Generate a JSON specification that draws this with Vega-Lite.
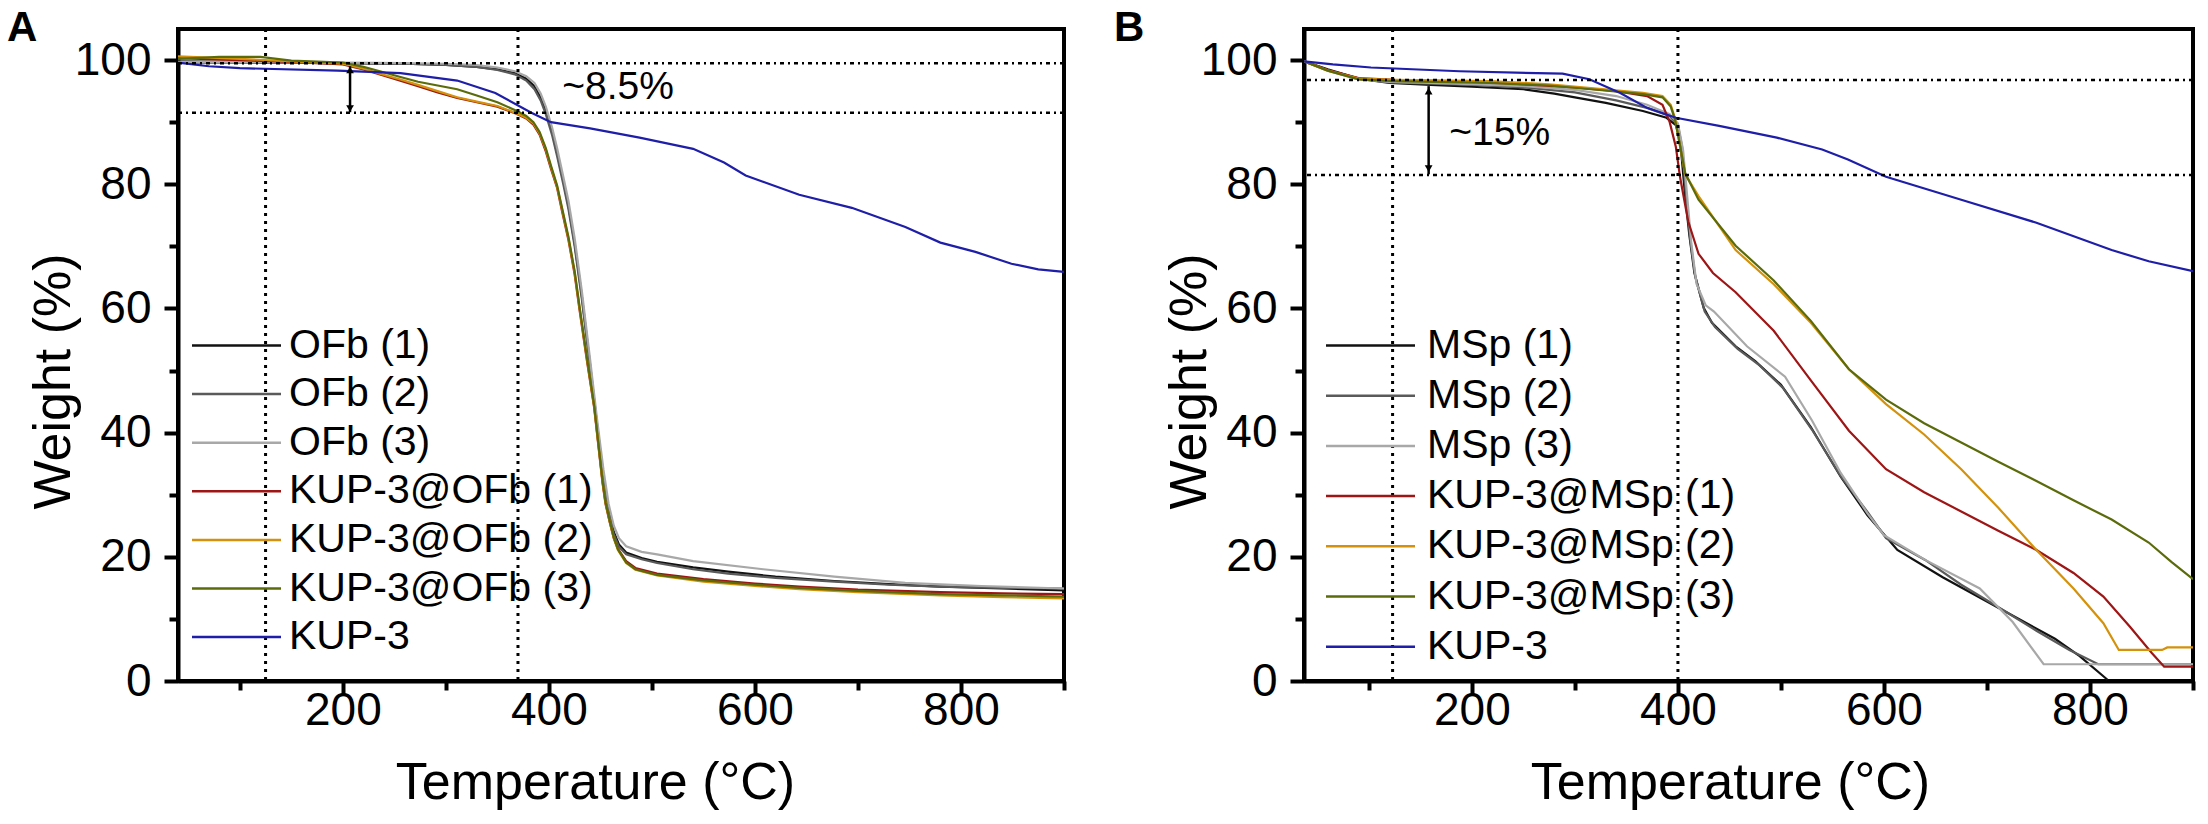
{
  "$schema": "https://vega.github.io/schema/vega-lite/v6.json",
  "autosize": {"type": "pad"},
  "padding": {"left": 5, "top": 4, "right": 15, "bottom": 15},
  "bounds": "flush",
  "spacing": 240,
  "background": "white",
  "config": {
    "font": "Liberation Sans",
    "view": {"stroke": "black", "strokeWidth": 4},
    "axis": {"domainColor": "black", "domainWidth": 4, "tickColor": "black", "tickWidth": 4, "grid": false, "labelFont": "Liberation Sans", "labelFontSize": 46, "labelColor": "black", "titleFont": "Liberation Sans", "titleFontSize": 52, "titleFontWeight": "normal", "titleColor": "black", "labelFlush": false, "labelOverlap": false},
    "legend": {"orient": "none", "title": null, "symbolType": "M-4.45,0L4.45,0", "symbolSize": 400, "symbolStrokeWidth": 2.5, "labelFontSize": 41, "labelFont": "Liberation Sans", "labelColor": "black", "padding": 0, "rowPadding": 6.6, "labelLimit": 600},
    "title": {"font": "Liberation Sans", "fontSize": 42, "fontWeight": "bold", "color": "black"}
  },
  "datasets": {
    "A": [
      {"s":"OFb (1)","T":40,"W":99.8},{"s":"OFb (1)","T":100,"W":99.7},{"s":"OFb (1)","T":200,"W":99.5},{"s":"OFb (1)","T":260,"W":99.4},{"s":"OFb (1)","T":300,"W":99.2},{"s":"OFb (1)","T":330,"W":98.9},{"s":"OFb (1)","T":350,"W":98.5},{"s":"OFb (1)","T":367,"W":97.9},{"s":"OFb (1)","T":378,"W":97.0},{"s":"OFb (1)","T":386,"W":95.8},{"s":"OFb (1)","T":392,"W":94.0},{"s":"OFb (1)","T":397,"W":91.8},{"s":"OFb (1)","T":403,"W":88.5},{"s":"OFb (1)","T":408,"W":85.0},{"s":"OFb (1)","T":414,"W":80.5},{"s":"OFb (1)","T":419,"W":76.5},{"s":"OFb (1)","T":425,"W":70.5},{"s":"OFb (1)","T":432,"W":62.0},{"s":"OFb (1)","T":440,"W":51.0},{"s":"OFb (1)","T":447,"W":41.0},{"s":"OFb (1)","T":453,"W":33.0},{"s":"OFb (1)","T":458,"W":27.5},{"s":"OFb (1)","T":463,"W":24.0},{"s":"OFb (1)","T":468,"W":22.0},{"s":"OFb (1)","T":475,"W":20.7},{"s":"OFb (1)","T":490,"W":19.8},{"s":"OFb (1)","T":505,"W":19.2},{"s":"OFb (1)","T":540,"W":18.3},{"s":"OFb (1)","T":574,"W":17.6},{"s":"OFb (1)","T":620,"W":16.8},{"s":"OFb (1)","T":677,"W":16.1},{"s":"OFb (1)","T":730,"W":15.6},{"s":"OFb (1)","T":780,"W":15.2},{"s":"OFb (1)","T":840,"W":14.9},{"s":"OFb (1)","T":900,"W":14.6},
      {"s":"OFb (2)","T":40,"W":99.6},{"s":"OFb (2)","T":100,"W":99.6},{"s":"OFb (2)","T":200,"W":99.5},{"s":"OFb (2)","T":260,"W":99.4},{"s":"OFb (2)","T":300,"W":99.2},{"s":"OFb (2)","T":330,"W":98.9},{"s":"OFb (2)","T":350,"W":98.4},{"s":"OFb (2)","T":367,"W":97.7},{"s":"OFb (2)","T":378,"W":96.7},{"s":"OFb (2)","T":386,"W":95.3},{"s":"OFb (2)","T":392,"W":93.5},{"s":"OFb (2)","T":397,"W":91.3},{"s":"OFb (2)","T":403,"W":88.0},{"s":"OFb (2)","T":408,"W":84.5},{"s":"OFb (2)","T":414,"W":80.0},{"s":"OFb (2)","T":419,"W":76.0},{"s":"OFb (2)","T":425,"W":70.0},{"s":"OFb (2)","T":432,"W":61.5},{"s":"OFb (2)","T":440,"W":50.5},{"s":"OFb (2)","T":447,"W":40.5},{"s":"OFb (2)","T":453,"W":32.5},{"s":"OFb (2)","T":458,"W":27.0},{"s":"OFb (2)","T":463,"W":23.6},{"s":"OFb (2)","T":468,"W":21.6},{"s":"OFb (2)","T":475,"W":20.4},{"s":"OFb (2)","T":490,"W":19.6},{"s":"OFb (2)","T":505,"W":19.0},{"s":"OFb (2)","T":540,"W":18.0},{"s":"OFb (2)","T":574,"W":17.3},{"s":"OFb (2)","T":620,"W":16.6},{"s":"OFb (2)","T":677,"W":16.0},{"s":"OFb (2)","T":730,"W":15.5},{"s":"OFb (2)","T":780,"W":15.2},{"s":"OFb (2)","T":840,"W":15.0},{"s":"OFb (2)","T":900,"W":14.9},
      {"s":"OFb (3)","T":40,"W":99.7},{"s":"OFb (3)","T":100,"W":99.7},{"s":"OFb (3)","T":200,"W":99.6},{"s":"OFb (3)","T":260,"W":99.5},{"s":"OFb (3)","T":300,"W":99.4},{"s":"OFb (3)","T":330,"W":99.2},{"s":"OFb (3)","T":350,"W":98.8},{"s":"OFb (3)","T":367,"W":98.2},{"s":"OFb (3)","T":378,"W":97.4},{"s":"OFb (3)","T":386,"W":96.3},{"s":"OFb (3)","T":392,"W":94.6},{"s":"OFb (3)","T":397,"W":92.5},{"s":"OFb (3)","T":403,"W":89.2},{"s":"OFb (3)","T":408,"W":85.8},{"s":"OFb (3)","T":414,"W":81.2},{"s":"OFb (3)","T":419,"W":77.3},{"s":"OFb (3)","T":425,"W":71.3},{"s":"OFb (3)","T":432,"W":62.8},{"s":"OFb (3)","T":440,"W":51.8},{"s":"OFb (3)","T":447,"W":41.8},{"s":"OFb (3)","T":453,"W":34.0},{"s":"OFb (3)","T":458,"W":28.5},{"s":"OFb (3)","T":463,"W":25.0},{"s":"OFb (3)","T":468,"W":23.0},{"s":"OFb (3)","T":475,"W":21.7},{"s":"OFb (3)","T":490,"W":20.8},{"s":"OFb (3)","T":505,"W":20.4},{"s":"OFb (3)","T":540,"W":19.3},{"s":"OFb (3)","T":608,"W":18.0},{"s":"OFb (3)","T":677,"W":16.8},{"s":"OFb (3)","T":746,"W":15.8},{"s":"OFb (3)","T":820,"W":15.3},{"s":"OFb (3)","T":900,"W":14.9},
      {"s":"KUP-3@OFb (1)","T":40,"W":100.3},{"s":"KUP-3@OFb (1)","T":100,"W":100.0},{"s":"KUP-3@OFb (1)","T":150,"W":99.7},{"s":"KUP-3@OFb (1)","T":200,"W":99.3},{"s":"KUP-3@OFb (1)","T":220,"W":98.5},{"s":"KUP-3@OFb (1)","T":236,"W":97.7},{"s":"KUP-3@OFb (1)","T":255,"W":96.7},{"s":"KUP-3@OFb (1)","T":273,"W":95.8},{"s":"KUP-3@OFb (1)","T":292,"W":94.8},{"s":"KUP-3@OFb (1)","T":311,"W":93.9},{"s":"KUP-3@OFb (1)","T":330,"W":93.2},{"s":"KUP-3@OFb (1)","T":350,"W":92.5},{"s":"KUP-3@OFb (1)","T":369,"W":91.3},{"s":"KUP-3@OFb (1)","T":378,"W":90.6},{"s":"KUP-3@OFb (1)","T":385,"W":89.6},{"s":"KUP-3@OFb (1)","T":391,"W":88.0},{"s":"KUP-3@OFb (1)","T":397,"W":85.3},{"s":"KUP-3@OFb (1)","T":402,"W":82.5},{"s":"KUP-3@OFb (1)","T":408,"W":79.4},{"s":"KUP-3@OFb (1)","T":413,"W":75.5},{"s":"KUP-3@OFb (1)","T":419,"W":71.0},{"s":"KUP-3@OFb (1)","T":425,"W":65.5},{"s":"KUP-3@OFb (1)","T":430,"W":59.5},{"s":"KUP-3@OFb (1)","T":437,"W":51.5},{"s":"KUP-3@OFb (1)","T":444,"W":44.0},{"s":"KUP-3@OFb (1)","T":448,"W":38.0},{"s":"KUP-3@OFb (1)","T":452,"W":32.0},{"s":"KUP-3@OFb (1)","T":455,"W":28.5},{"s":"KUP-3@OFb (1)","T":459,"W":25.6},{"s":"KUP-3@OFb (1)","T":463,"W":23.0},{"s":"KUP-3@OFb (1)","T":467,"W":21.3},{"s":"KUP-3@OFb (1)","T":475,"W":19.3},{"s":"KUP-3@OFb (1)","T":484,"W":18.2},{"s":"KUP-3@OFb (1)","T":505,"W":17.3},{"s":"KUP-3@OFb (1)","T":550,"W":16.4},{"s":"KUP-3@OFb (1)","T":600,"W":15.7},{"s":"KUP-3@OFb (1)","T":643,"W":15.2},{"s":"KUP-3@OFb (1)","T":700,"W":14.7},{"s":"KUP-3@OFb (1)","T":780,"W":14.3},{"s":"KUP-3@OFb (1)","T":840,"W":14.1},{"s":"KUP-3@OFb (1)","T":900,"W":14.0},
      {"s":"KUP-3@OFb (2)","T":40,"W":100.6},{"s":"KUP-3@OFb (2)","T":100,"W":100.2},{"s":"KUP-3@OFb (2)","T":150,"W":99.8},{"s":"KUP-3@OFb (2)","T":200,"W":99.4},{"s":"KUP-3@OFb (2)","T":220,"W":98.6},{"s":"KUP-3@OFb (2)","T":236,"W":97.8},{"s":"KUP-3@OFb (2)","T":255,"W":96.9},{"s":"KUP-3@OFb (2)","T":273,"W":96.0},{"s":"KUP-3@OFb (2)","T":292,"W":95.0},{"s":"KUP-3@OFb (2)","T":311,"W":94.0},{"s":"KUP-3@OFb (2)","T":330,"W":93.3},{"s":"KUP-3@OFb (2)","T":350,"W":92.6},{"s":"KUP-3@OFb (2)","T":369,"W":91.4},{"s":"KUP-3@OFb (2)","T":378,"W":90.7},{"s":"KUP-3@OFb (2)","T":385,"W":89.8},{"s":"KUP-3@OFb (2)","T":391,"W":88.2},{"s":"KUP-3@OFb (2)","T":397,"W":85.6},{"s":"KUP-3@OFb (2)","T":402,"W":82.8},{"s":"KUP-3@OFb (2)","T":408,"W":79.6},{"s":"KUP-3@OFb (2)","T":413,"W":75.8},{"s":"KUP-3@OFb (2)","T":419,"W":71.3},{"s":"KUP-3@OFb (2)","T":425,"W":65.8},{"s":"KUP-3@OFb (2)","T":430,"W":59.8},{"s":"KUP-3@OFb (2)","T":437,"W":51.8},{"s":"KUP-3@OFb (2)","T":444,"W":44.2},{"s":"KUP-3@OFb (2)","T":448,"W":38.2},{"s":"KUP-3@OFb (2)","T":452,"W":32.2},{"s":"KUP-3@OFb (2)","T":455,"W":28.7},{"s":"KUP-3@OFb (2)","T":459,"W":25.7},{"s":"KUP-3@OFb (2)","T":463,"W":23.0},{"s":"KUP-3@OFb (2)","T":467,"W":21.1},{"s":"KUP-3@OFb (2)","T":475,"W":19.0},{"s":"KUP-3@OFb (2)","T":484,"W":17.9},{"s":"KUP-3@OFb (2)","T":505,"W":17.0},{"s":"KUP-3@OFb (2)","T":550,"W":16.0},{"s":"KUP-3@OFb (2)","T":600,"W":15.3},{"s":"KUP-3@OFb (2)","T":643,"W":14.8},{"s":"KUP-3@OFb (2)","T":700,"W":14.3},{"s":"KUP-3@OFb (2)","T":780,"W":13.8},{"s":"KUP-3@OFb (2)","T":840,"W":13.5},{"s":"KUP-3@OFb (2)","T":900,"W":13.3},
      {"s":"KUP-3@OFb (3)","T":40,"W":100.2},{"s":"KUP-3@OFb (3)","T":80,"W":100.5},{"s":"KUP-3@OFb (3)","T":120,"W":100.5},{"s":"KUP-3@OFb (3)","T":150,"W":99.9},{"s":"KUP-3@OFb (3)","T":200,"W":99.6},{"s":"KUP-3@OFb (3)","T":220,"W":98.9},{"s":"KUP-3@OFb (3)","T":236,"W":98.2},{"s":"KUP-3@OFb (3)","T":255,"W":97.3},{"s":"KUP-3@OFb (3)","T":273,"W":96.5},{"s":"KUP-3@OFb (3)","T":292,"W":95.9},{"s":"KUP-3@OFb (3)","T":311,"W":95.3},{"s":"KUP-3@OFb (3)","T":330,"W":94.3},{"s":"KUP-3@OFb (3)","T":350,"W":93.2},{"s":"KUP-3@OFb (3)","T":369,"W":91.8},{"s":"KUP-3@OFb (3)","T":378,"W":91.0},{"s":"KUP-3@OFb (3)","T":385,"W":90.0},{"s":"KUP-3@OFb (3)","T":391,"W":88.4},{"s":"KUP-3@OFb (3)","T":397,"W":85.8},{"s":"KUP-3@OFb (3)","T":402,"W":83.0},{"s":"KUP-3@OFb (3)","T":408,"W":79.8},{"s":"KUP-3@OFb (3)","T":413,"W":76.0},{"s":"KUP-3@OFb (3)","T":419,"W":71.5},{"s":"KUP-3@OFb (3)","T":425,"W":66.0},{"s":"KUP-3@OFb (3)","T":430,"W":60.0},{"s":"KUP-3@OFb (3)","T":437,"W":52.0},{"s":"KUP-3@OFb (3)","T":444,"W":44.3},{"s":"KUP-3@OFb (3)","T":448,"W":38.3},{"s":"KUP-3@OFb (3)","T":452,"W":32.3},{"s":"KUP-3@OFb (3)","T":455,"W":28.8},{"s":"KUP-3@OFb (3)","T":459,"W":25.8},{"s":"KUP-3@OFb (3)","T":463,"W":23.1},{"s":"KUP-3@OFb (3)","T":467,"W":21.2},{"s":"KUP-3@OFb (3)","T":475,"W":19.1},{"s":"KUP-3@OFb (3)","T":484,"W":18.0},{"s":"KUP-3@OFb (3)","T":505,"W":17.1},{"s":"KUP-3@OFb (3)","T":550,"W":16.2},{"s":"KUP-3@OFb (3)","T":600,"W":15.5},{"s":"KUP-3@OFb (3)","T":643,"W":15.0},{"s":"KUP-3@OFb (3)","T":700,"W":14.5},{"s":"KUP-3@OFb (3)","T":780,"W":14.0},{"s":"KUP-3@OFb (3)","T":840,"W":13.8},{"s":"KUP-3@OFb (3)","T":900,"W":13.6},
      {"s":"KUP-3","T":40,"W":99.6},{"s":"KUP-3","T":70,"W":99.0},{"s":"KUP-3","T":100,"W":98.7},{"s":"KUP-3","T":195,"W":98.3},{"s":"KUP-3","T":256,"W":97.9},{"s":"KUP-3","T":311,"W":96.7},{"s":"KUP-3","T":348,"W":94.7},{"s":"KUP-3","T":383,"W":91.5},{"s":"KUP-3","T":402,"W":90.0},{"s":"KUP-3","T":440,"W":89.0},{"s":"KUP-3","T":488,"W":87.5},{"s":"KUP-3","T":540,"W":85.7},{"s":"KUP-3","T":570,"W":83.5},{"s":"KUP-3","T":591,"W":81.4},{"s":"KUP-3","T":643,"W":78.3},{"s":"KUP-3","T":694,"W":76.2},{"s":"KUP-3","T":746,"W":73.1},{"s":"KUP-3","T":780,"W":70.6},{"s":"KUP-3","T":814,"W":69.1},{"s":"KUP-3","T":849,"W":67.2},{"s":"KUP-3","T":875,"W":66.3},{"s":"KUP-3","T":900,"W":65.9}
    ],
    "B": [
      {"s":"MSp (1)","T":37,"W":99.8},{"s":"MSp (1)","T":60,"W":98.5},{"s":"MSp (1)","T":90,"W":97.0},{"s":"MSp (1)","T":120,"W":96.3},{"s":"MSp (1)","T":160,"W":96.0},{"s":"MSp (1)","T":200,"W":95.7},{"s":"MSp (1)","T":250,"W":95.3},{"s":"MSp (1)","T":280,"W":94.6},{"s":"MSp (1)","T":300,"W":94.0},{"s":"MSp (1)","T":330,"W":93.1},{"s":"MSp (1)","T":366,"W":91.8},{"s":"MSp (1)","T":389,"W":90.7},{"s":"MSp (1)","T":398,"W":89.5},{"s":"MSp (1)","T":402,"W":87.4},{"s":"MSp (1)","T":407,"W":78.1},{"s":"MSp (1)","T":411,"W":71.9},{"s":"MSp (1)","T":416,"W":65.7},{"s":"MSp (1)","T":425,"W":60.1},{"s":"MSp (1)","T":433,"W":57.7},{"s":"MSp (1)","T":456,"W":53.9},{"s":"MSp (1)","T":475,"W":51.5},{"s":"MSp (1)","T":500,"W":47.7},{"s":"MSp (1)","T":529,"W":40.9},{"s":"MSp (1)","T":558,"W":32.9},{"s":"MSp (1)","T":584,"W":26.7},{"s":"MSp (1)","T":613,"W":21.1},{"s":"MSp (1)","T":657,"W":16.7},{"s":"MSp (1)","T":711,"W":11.8},{"s":"MSp (1)","T":766,"W":6.8},{"s":"MSp (1)","T":790,"W":4.0},{"s":"MSp (1)","T":817,"W":0.2},
      {"s":"MSp (2)","T":37,"W":99.8},{"s":"MSp (2)","T":60,"W":98.4},{"s":"MSp (2)","T":90,"W":97.0},{"s":"MSp (2)","T":120,"W":96.4},{"s":"MSp (2)","T":160,"W":96.2},{"s":"MSp (2)","T":200,"W":96.0},{"s":"MSp (2)","T":250,"W":95.6},{"s":"MSp (2)","T":300,"W":94.8},{"s":"MSp (2)","T":340,"W":93.5},{"s":"MSp (2)","T":370,"W":92.3},{"s":"MSp (2)","T":392,"W":91.0},{"s":"MSp (2)","T":400,"W":89.5},{"s":"MSp (2)","T":404,"W":86.0},{"s":"MSp (2)","T":408,"W":78.0},{"s":"MSp (2)","T":412,"W":71.0},{"s":"MSp (2)","T":417,"W":65.0},{"s":"MSp (2)","T":426,"W":59.5},{"s":"MSp (2)","T":436,"W":57.0},{"s":"MSp (2)","T":458,"W":53.5},{"s":"MSp (2)","T":478,"W":51.0},{"s":"MSp (2)","T":502,"W":47.2},{"s":"MSp (2)","T":530,"W":40.5},{"s":"MSp (2)","T":558,"W":33.0},{"s":"MSp (2)","T":585,"W":27.0},{"s":"MSp (2)","T":602,"W":23.0},{"s":"MSp (2)","T":640,"W":19.5},{"s":"MSp (2)","T":675,"W":15.5},{"s":"MSp (2)","T":712,"W":11.8},{"s":"MSp (2)","T":748,"W":8.1},{"s":"MSp (2)","T":780,"W":5.0},{"s":"MSp (2)","T":808,"W":2.7},{"s":"MSp (2)","T":900,"W":2.7},
      {"s":"MSp (3)","T":37,"W":99.8},{"s":"MSp (3)","T":60,"W":98.3},{"s":"MSp (3)","T":90,"W":96.9},{"s":"MSp (3)","T":120,"W":96.5},{"s":"MSp (3)","T":160,"W":96.3},{"s":"MSp (3)","T":200,"W":96.1},{"s":"MSp (3)","T":250,"W":95.8},{"s":"MSp (3)","T":300,"W":95.2},{"s":"MSp (3)","T":340,"W":94.2},{"s":"MSp (3)","T":370,"W":92.8},{"s":"MSp (3)","T":392,"W":91.3},{"s":"MSp (3)","T":400,"W":89.8},{"s":"MSp (3)","T":405,"W":85.5},{"s":"MSp (3)","T":409,"W":78.0},{"s":"MSp (3)","T":413,"W":70.5},{"s":"MSp (3)","T":418,"W":64.0},{"s":"MSp (3)","T":427,"W":60.5},{"s":"MSp (3)","T":435,"W":59.5},{"s":"MSp (3)","T":467,"W":53.9},{"s":"MSp (3)","T":504,"W":49.0},{"s":"MSp (3)","T":530,"W":42.0},{"s":"MSp (3)","T":558,"W":33.5},{"s":"MSp (3)","T":584,"W":27.0},{"s":"MSp (3)","T":600,"W":23.5},{"s":"MSp (3)","T":640,"W":19.5},{"s":"MSp (3)","T":693,"W":14.9},{"s":"MSp (3)","T":725,"W":9.5},{"s":"MSp (3)","T":755,"W":2.7},{"s":"MSp (3)","T":900,"W":2.7},
      {"s":"KUP-3@MSp (1)","T":37,"W":99.8},{"s":"KUP-3@MSp (1)","T":60,"W":98.4},{"s":"KUP-3@MSp (1)","T":90,"W":97.1},{"s":"KUP-3@MSp (1)","T":125,"W":96.8},{"s":"KUP-3@MSp (1)","T":200,"W":96.5},{"s":"KUP-3@MSp (1)","T":250,"W":96.1},{"s":"KUP-3@MSp (1)","T":300,"W":95.6},{"s":"KUP-3@MSp (1)","T":340,"W":95.0},{"s":"KUP-3@MSp (1)","T":370,"W":94.2},{"s":"KUP-3@MSp (1)","T":385,"W":92.8},{"s":"KUP-3@MSp (1)","T":392,"W":90.0},{"s":"KUP-3@MSp (1)","T":398,"W":86.0},{"s":"KUP-3@MSp (1)","T":402,"W":81.2},{"s":"KUP-3@MSp (1)","T":410,"W":74.0},{"s":"KUP-3@MSp (1)","T":420,"W":68.8},{"s":"KUP-3@MSp (1)","T":434,"W":65.7},{"s":"KUP-3@MSp (1)","T":456,"W":62.6},{"s":"KUP-3@MSp (1)","T":493,"W":56.4},{"s":"KUP-3@MSp (1)","T":529,"W":48.4},{"s":"KUP-3@MSp (1)","T":566,"W":40.3},{"s":"KUP-3@MSp (1)","T":602,"W":34.1},{"s":"KUP-3@MSp (1)","T":639,"W":30.4},{"s":"KUP-3@MSp (1)","T":675,"W":27.3},{"s":"KUP-3@MSp (1)","T":711,"W":24.2},{"s":"KUP-3@MSp (1)","T":748,"W":21.1},{"s":"KUP-3@MSp (1)","T":784,"W":17.4},{"s":"KUP-3@MSp (1)","T":813,"W":13.6},{"s":"KUP-3@MSp (1)","T":839,"W":8.7},{"s":"KUP-3@MSp (1)","T":860,"W":4.5},{"s":"KUP-3@MSp (1)","T":872,"W":2.3},{"s":"KUP-3@MSp (1)","T":900,"W":2.3},
      {"s":"KUP-3@MSp (2)","T":37,"W":99.8},{"s":"KUP-3@MSp (2)","T":60,"W":98.3},{"s":"KUP-3@MSp (2)","T":90,"W":97.0},{"s":"KUP-3@MSp (2)","T":125,"W":96.8},{"s":"KUP-3@MSp (2)","T":218,"W":96.6},{"s":"KUP-3@MSp (2)","T":275,"W":96.1},{"s":"KUP-3@MSp (2)","T":329,"W":95.3},{"s":"KUP-3@MSp (2)","T":366,"W":94.7},{"s":"KUP-3@MSp (2)","T":385,"W":94.2},{"s":"KUP-3@MSp (2)","T":393,"W":92.8},{"s":"KUP-3@MSp (2)","T":397,"W":90.7},{"s":"KUP-3@MSp (2)","T":400,"W":88.0},{"s":"KUP-3@MSp (2)","T":407,"W":81.6},{"s":"KUP-3@MSp (2)","T":420,"W":78.1},{"s":"KUP-3@MSp (2)","T":456,"W":69.4},{"s":"KUP-3@MSp (2)","T":493,"W":63.9},{"s":"KUP-3@MSp (2)","T":529,"W":57.7},{"s":"KUP-3@MSp (2)","T":566,"W":50.2},{"s":"KUP-3@MSp (2)","T":602,"W":44.6},{"s":"KUP-3@MSp (2)","T":639,"W":39.7},{"s":"KUP-3@MSp (2)","T":675,"W":34.1},{"s":"KUP-3@MSp (2)","T":711,"W":27.9},{"s":"KUP-3@MSp (2)","T":748,"W":21.1},{"s":"KUP-3@MSp (2)","T":784,"W":14.9},{"s":"KUP-3@MSp (2)","T":813,"W":9.3},{"s":"KUP-3@MSp (2)","T":828,"W":5.0},{"s":"KUP-3@MSp (2)","T":870,"W":5.0},{"s":"KUP-3@MSp (2)","T":875,"W":5.4},{"s":"KUP-3@MSp (2)","T":900,"W":5.4},
      {"s":"KUP-3@MSp (3)","T":37,"W":99.8},{"s":"KUP-3@MSp (3)","T":60,"W":98.3},{"s":"KUP-3@MSp (3)","T":90,"W":96.9},{"s":"KUP-3@MSp (3)","T":125,"W":96.6},{"s":"KUP-3@MSp (3)","T":218,"W":96.3},{"s":"KUP-3@MSp (3)","T":275,"W":95.9},{"s":"KUP-3@MSp (3)","T":329,"W":95.1},{"s":"KUP-3@MSp (3)","T":366,"W":94.5},{"s":"KUP-3@MSp (3)","T":385,"W":94.0},{"s":"KUP-3@MSp (3)","T":393,"W":92.5},{"s":"KUP-3@MSp (3)","T":397,"W":90.5},{"s":"KUP-3@MSp (3)","T":400,"W":88.0},{"s":"KUP-3@MSp (3)","T":407,"W":81.8},{"s":"KUP-3@MSp (3)","T":420,"W":77.5},{"s":"KUP-3@MSp (3)","T":456,"W":70.1},{"s":"KUP-3@MSp (3)","T":493,"W":64.5},{"s":"KUP-3@MSp (3)","T":529,"W":58.0},{"s":"KUP-3@MSp (3)","T":566,"W":50.2},{"s":"KUP-3@MSp (3)","T":602,"W":45.3},{"s":"KUP-3@MSp (3)","T":639,"W":41.5},{"s":"KUP-3@MSp (3)","T":675,"W":38.4},{"s":"KUP-3@MSp (3)","T":711,"W":35.3},{"s":"KUP-3@MSp (3)","T":748,"W":32.2},{"s":"KUP-3@MSp (3)","T":784,"W":29.1},{"s":"KUP-3@MSp (3)","T":821,"W":26.0},{"s":"KUP-3@MSp (3)","T":857,"W":22.3},{"s":"KUP-3@MSp (3)","T":879,"W":19.2},{"s":"KUP-3@MSp (3)","T":900,"W":16.4},
      {"s":"KUP-3","T":37,"W":99.8},{"s":"KUP-3","T":65,"W":99.3},{"s":"KUP-3","T":102,"W":98.8},{"s":"KUP-3","T":188,"W":98.2},{"s":"KUP-3","T":288,"W":97.8},{"s":"KUP-3","T":314,"W":96.9},{"s":"KUP-3","T":344,"W":94.7},{"s":"KUP-3","T":370,"W":92.3},{"s":"KUP-3","T":398,"W":90.7},{"s":"KUP-3","T":440,"W":89.4},{"s":"KUP-3","T":496,"W":87.5},{"s":"KUP-3","T":540,"W":85.6},{"s":"KUP-3","T":565,"W":84.0},{"s":"KUP-3","T":602,"W":81.2},{"s":"KUP-3","T":675,"W":77.5},{"s":"KUP-3","T":748,"W":73.8},{"s":"KUP-3","T":821,"W":69.4},{"s":"KUP-3","T":857,"W":67.6},{"s":"KUP-3","T":900,"W":66.0}
    ]
  },
  "resolve": {"scale": {"color": "independent", "x": "independent", "y": "independent", "shape": "independent"}, "legend": {"color": "independent"}},
  "hconcat": [
    {
      "width": 886, "height": 652,
      "title": {"text": "A", "anchor": "start", "frame": "group", "dx": -171, "dy": 55, "offset": 0, "baseline": "alphabetic"},
      "layer": [
        {
          "data": {"name": "A"},
          "mark": {"type": "line", "strokeWidth": 2.2, "clip": true},
          "encoding": {
            "x": {"field": "T", "type": "quantitative", "scale": {"domain": [40, 900], "nice": false, "zero": false},
              "axis": {"title": "Temperature (°C)", "values": [100, 200, 300, 400, 500, 600, 700, 800, 900], "labelExpr": "datum.value % 200 === 0 ? datum.label : ''", "tickSize": {"condition": {"test": "datum.value % 200 === 0", "value": 14}, "value": 9}, "labelPadding": -7, "titleX": 417, "titleY": 117, "titleBaseline": "alphabetic", "titleAnchor": "middle"}},
            "y": {"field": "W", "type": "quantitative", "scale": {"domain": [0, 105], "nice": false},
              "axis": {"title": "Weight (%)", "values": [0, 10, 20, 30, 40, 50, 60, 70, 80, 90, 100], "labelExpr": "datum.value % 20 === 0 ? datum.label : ''", "tickSize": {"condition": {"test": "datum.value % 20 === 0", "value": 14}, "value": 9}, "labelPadding": 13, "titleX": -109, "titleY": 352, "titleBaseline": "alphabetic", "titleAnchor": "middle"}},
            "color": {"field": "s", "type": "nominal",
              "scale": {"domain": ["OFb (1)", "OFb (2)", "OFb (3)", "KUP-3@OFb (1)", "KUP-3@OFb (2)", "KUP-3@OFb (3)", "KUP-3"], "range": ["#111111", "#5a5a5a", "#a8a8a8", "#9e1515", "#d4920c", "#5b6b0a", "#1e1ea8"]},
              "legend": {"legendX": 38, "legendY": 296, "labelOffset": 32}}
          }
        },
        {"data": {"values": [{"T": 125}, {"T": 370}]}, "mark": {"type": "rule", "strokeDash": [3, 5], "strokeWidth": 3, "color": "black"}, "encoding": {"x": {"field": "T", "type": "quantitative"}}},
        {"data": {"values": [{"W": 99.5}, {"W": 91.5}]}, "mark": {"type": "rule", "strokeDash": [4, 4, 2, 4], "strokeWidth": 2.5, "color": "black"}, "encoding": {"y": {"field": "W", "type": "quantitative"}}},
        {"data": {"values": [{"T": 207, "W": 99.0, "W2": 91.6}]}, "mark": {"type": "rule", "strokeWidth": 2.5, "color": "black"}, "encoding": {"x": {"field": "T", "type": "quantitative"}, "y": {"field": "W", "type": "quantitative"}, "y2": {"field": "W2"}}},
        {"data": {"values": [{"T": 207, "W": 98.4, "d": "up"}, {"T": 207, "W": 92.2, "d": "down"}]}, "mark": {"type": "point", "filled": true, "color": "black", "size": 60, "opacity": 1}, "encoding": {"x": {"field": "T", "type": "quantitative"}, "y": {"field": "W", "type": "quantitative"}, "shape": {"field": "d", "type": "nominal", "scale": {"domain": ["up", "down"], "range": ["triangle-up", "triangle-down"]}, "legend": null}}},
        {"data": {"values": [{"T": 413, "W": 95.7, "label": "~8.5%"}]}, "mark": {"type": "text", "align": "left", "baseline": "middle", "fontSize": 39, "color": "black"}, "encoding": {"x": {"field": "T", "type": "quantitative"}, "y": {"field": "W", "type": "quantitative"}, "text": {"field": "label"}}}
      ]
    },
    {
      "width": 889, "height": 652,
      "title": {"text": "B", "anchor": "start", "frame": "group", "dx": -190, "dy": 55, "offset": 0, "baseline": "alphabetic"},
      "layer": [
        {
          "data": {"name": "B"},
          "mark": {"type": "line", "strokeWidth": 2.2, "clip": true},
          "encoding": {
            "x": {"field": "T", "type": "quantitative", "scale": {"domain": [37, 900], "nice": false, "zero": false},
              "axis": {"title": "Temperature (°C)", "values": [100, 200, 300, 400, 500, 600, 700, 800, 900], "labelExpr": "datum.value % 200 === 0 ? datum.label : ''", "tickSize": {"condition": {"test": "datum.value % 200 === 0", "value": 14}, "value": 9}, "labelPadding": -7, "titleX": 426, "titleY": 117, "titleBaseline": "alphabetic", "titleAnchor": "middle"}},
            "y": {"field": "W", "type": "quantitative", "scale": {"domain": [0, 105], "nice": false},
              "axis": {"title": "Weight (%)", "values": [0, 10, 20, 30, 40, 50, 60, 70, 80, 90, 100], "labelExpr": "datum.value % 20 === 0 ? datum.label : ''", "tickSize": {"condition": {"test": "datum.value % 20 === 0", "value": 14}, "value": 9}, "labelPadding": 13, "titleX": -99, "titleY": 352, "titleBaseline": "alphabetic", "titleAnchor": "middle"}},
            "color": {"field": "s", "type": "nominal",
              "scale": {"domain": ["MSp (1)", "MSp (2)", "MSp (3)", "KUP-3@MSp (1)", "KUP-3@MSp (2)", "KUP-3@MSp (3)", "KUP-3"], "range": ["#111111", "#5a5a5a", "#a8a8a8", "#9e1515", "#d4920c", "#5b6b0a", "#1e1ea8"]},
              "legend": {"legendX": 46, "legendY": 296, "labelOffset": 36, "rowPadding": 8.2}}
          }
        },
        {"data": {"values": [{"T": 123}, {"T": 400}]}, "mark": {"type": "rule", "strokeDash": [3, 5], "strokeWidth": 3, "color": "black"}, "encoding": {"x": {"field": "T", "type": "quantitative"}}},
        {"data": {"values": [{"W": 96.8}, {"W": 81.5}]}, "mark": {"type": "rule", "strokeDash": [4, 4, 2, 4], "strokeWidth": 2.5, "color": "black"}, "encoding": {"y": {"field": "W", "type": "quantitative"}}},
        {"data": {"values": [{"T": 158, "W": 95.8, "W2": 81.6}]}, "mark": {"type": "rule", "strokeWidth": 2.5, "color": "black"}, "encoding": {"x": {"field": "T", "type": "quantitative"}, "y": {"field": "W", "type": "quantitative"}, "y2": {"field": "W2"}}},
        {"data": {"values": [{"T": 158, "W": 95.0, "d": "up"}, {"T": 158, "W": 82.5, "d": "down"}]}, "mark": {"type": "point", "filled": true, "color": "black", "size": 60, "opacity": 1}, "encoding": {"x": {"field": "T", "type": "quantitative"}, "y": {"field": "W", "type": "quantitative"}, "shape": {"field": "d", "type": "nominal", "scale": {"domain": ["up", "down"], "range": ["triangle-up", "triangle-down"]}, "legend": null}}},
        {"data": {"values": [{"T": 178, "W": 88.3, "label": "~15%"}]}, "mark": {"type": "text", "align": "left", "baseline": "middle", "fontSize": 39, "color": "black"}, "encoding": {"x": {"field": "T", "type": "quantitative"}, "y": {"field": "W", "type": "quantitative"}, "text": {"field": "label"}}}
      ]
    }
  ]
}
